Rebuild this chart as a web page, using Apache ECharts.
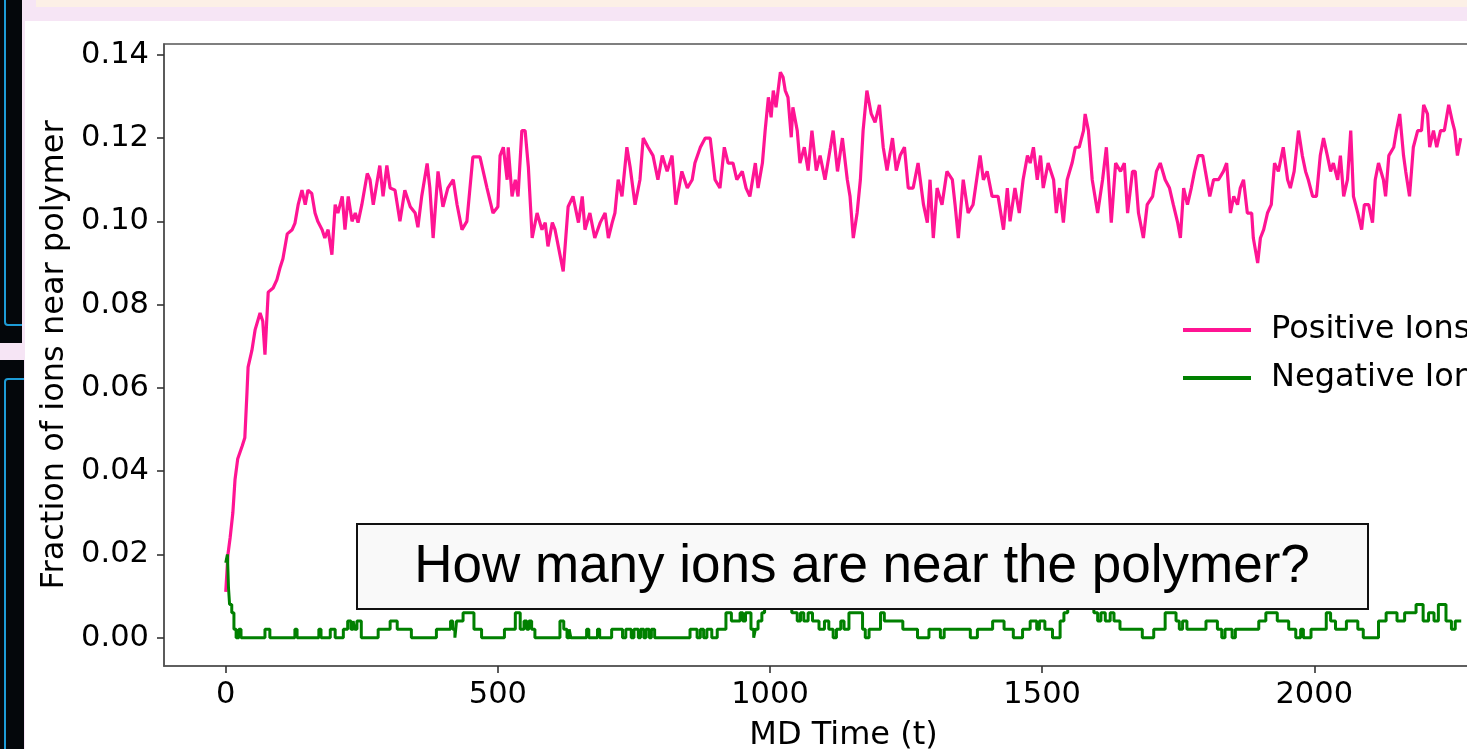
<!DOCTYPE html>
<html><head><meta charset="utf-8">
<script src="https://cdn.jsdelivr.net/npm/echarts@6/dist/echarts.min.js"></script>
<style>
html,body{margin:0;padding:0;width:1467px;height:749px;overflow:hidden;background:#f6e5f5;}
.abs{position:absolute;}
#chart{position:absolute;left:0;top:0;width:1467px;height:749px;}
</style></head><body>
<div class="abs" style="left:36px;top:0;width:1431px;height:7px;background:#fcf0e6"></div>
<div class="abs" style="left:25px;top:21px;width:1442px;height:728px;background:#fff"></div>
<div class="abs" style="left:0;top:0;width:22px;height:343px;background:#04070b;overflow:hidden">
  <div class="abs" style="left:4px;top:-10px;width:40px;height:332px;border:2px solid #1d9bd6;border-radius:4px"></div>
</div>
<div class="abs" style="left:0;top:360px;width:24px;height:389px;background:#04070b;overflow:hidden">
  <div class="abs" style="left:4px;top:18px;width:40px;height:400px;border:2px solid #1d9bd6;border-radius:4px"></div>
</div>
<div id="chart"></div>
<script>
const seriesNames = ['Positive Ions', 'Negative Ions'];
const xTicks = [0, 500, 1000, 1500, 2000];
const yTicks = [0, 0.02, 0.04, 0.06, 0.08, 0.10, 0.12, 0.14];

const positiveIons = [[0,0.011],[4,0.020],[8,0.024],[13,0.030],[17,0.038],[22,0.043],[30,0.046],[35,0.048],[39,0.059],[41,0.065],[48,0.069],[54,0.074],[63,0.078],[68,0.076],[72,0.068],[78,0.083],[87,0.084],[94,0.086],[100,0.089],[105,0.091],[113,0.097],[122,0.098],[127,0.0995],[133,0.104],[140,0.1075],[146,0.104],[151,0.1075],[158,0.1067],[164,0.102],[169,0.100],[177,0.098],[182,0.096],[188,0.098],[195,0.092],[201,0.104],[206,0.102],[214,0.106],[219,0.098],[225,0.106],[232,0.100],[238,0.102],[243,0.0997],[250,0.104],[260,0.1115],[265,0.110],[271,0.104],[283,0.1134],[289,0.106],[296,0.1134],[302,0.108],[311,0.1075],[320,0.100],[329,0.1075],[339,0.1035],[348,0.102],[353,0.0986],[360,0.106],[370,0.1139],[375,0.108],[381,0.096],[390,0.112],[399,0.1035],[408,0.108],[418,0.110],[425,0.104],[434,0.098],[443,0.100],[454,0.1155],[467,0.1155],[480,0.108],[491,0.102],[500,0.1035],[504,0.1158],[510,0.1178],[517,0.110],[519,0.1178],[526,0.106],[532,0.110],[537,0.106],[544,0.1218],[550,0.1218],[556,0.113],[563,0.096],[572,0.102],[581,0.098],[587,0.0997],[592,0.094],[600,0.0997],[605,0.098],[614,0.092],[620,0.088],[629,0.1035],[638,0.106],[648,0.0997],[655,0.106],[660,0.098],[669,0.102],[678,0.096],[688,0.0997],[697,0.102],[703,0.096],[710,0.0997],[715,0.102],[721,0.110],[728,0.106],[737,0.1178],[743,0.113],[752,0.104],[761,0.110],[767,0.120],[776,0.1178],[785,0.1158],[794,0.110],[802,0.1158],[811,0.112],[820,0.1158],[827,0.104],[838,0.112],[848,0.108],[857,0.110],[862,0.114],[872,0.1178],[881,0.120],[890,0.120],[899,0.110],[908,0.108],[916,0.1178],[923,0.114],[932,0.114],[939,0.110],[949,0.112],[956,0.108],[963,0.106],[973,0.114],[978,0.108],[986,0.114],[991,0.1218],[997,0.1298],[1002,0.125],[1006,0.1314],[1011,0.1274],[1019,0.1358],[1024,0.1346],[1028,0.1314],[1033,0.1298],[1039,0.1202],[1042,0.1274],[1050,0.1218],[1055,0.114],[1063,0.1178],[1070,0.1122],[1077,0.1218],[1085,0.1122],[1092,0.1158],[1101,0.110],[1111,0.1178],[1116,0.1218],[1124,0.112],[1133,0.120],[1142,0.110],[1147,0.106],[1153,0.096],[1160,0.102],[1166,0.110],[1171,0.1218],[1178,0.1314],[1186,0.1258],[1193,0.1238],[1201,0.128],[1208,0.1178],[1215,0.1122],[1225,0.120],[1232,0.1122],[1239,0.1158],[1247,0.1178],[1254,0.108],[1263,0.108],[1272,0.114],[1282,0.104],[1289,0.0997],[1294,0.110],[1300,0.096],[1307,0.108],[1316,0.104],[1325,0.112],[1335,0.110],[1340,0.104],[1346,0.096],[1355,0.110],[1364,0.102],[1373,0.104],[1386,0.1158],[1392,0.110],[1399,0.112],[1408,0.106],[1419,0.106],[1429,0.098],[1436,0.108],[1441,0.100],[1450,0.108],[1458,0.102],[1465,0.110],[1473,0.1158],[1478,0.114],[1484,0.1178],[1491,0.110],[1497,0.1158],[1502,0.108],[1511,0.114],[1521,0.110],[1526,0.102],[1532,0.108],[1539,0.0997],[1546,0.110],[1555,0.114],[1561,0.1178],[1568,0.1178],[1576,0.1218],[1579,0.1258],[1585,0.1218],[1592,0.110],[1602,0.102],[1611,0.110],[1618,0.1178],[1622,0.110],[1627,0.0997],[1635,0.114],[1644,0.112],[1651,0.114],[1657,0.102],[1666,0.112],[1671,0.112],[1677,0.102],[1686,0.096],[1693,0.104],[1703,0.106],[1710,0.112],[1717,0.114],[1726,0.110],[1734,0.108],[1741,0.104],[1749,0.0997],[1754,0.096],[1760,0.108],[1767,0.104],[1774,0.108],[1780,0.112],[1787,0.1158],[1795,0.1158],[1800,0.112],[1808,0.106],[1815,0.110],[1824,0.110],[1833,0.112],[1839,0.114],[1846,0.102],[1852,0.106],[1859,0.104],[1864,0.108],[1870,0.110],[1877,0.102],[1885,0.102],[1888,0.096],[1896,0.090],[1901,0.096],[1907,0.098],[1914,0.102],[1921,0.104],[1927,0.114],[1934,0.112],[1943,0.1178],[1951,0.110],[1956,0.108],[1963,0.112],[1971,0.1218],[1978,0.1158],[1984,0.112],[1989,0.110],[1997,0.106],[2004,0.106],[2011,0.1158],[2017,0.120],[2024,0.1158],[2030,0.112],[2035,0.114],[2043,0.110],[2048,0.1158],[2054,0.106],[2061,0.110],[2067,0.1218],[2072,0.106],[2080,0.102],[2087,0.098],[2092,0.104],[2100,0.104],[2107,0.0997],[2112,0.110],[2118,0.114],[2127,0.110],[2131,0.106],[2137,0.1158],[2146,0.1178],[2151,0.1218],[2157,0.1258],[2164,0.1158],[2168,0.112],[2175,0.106],[2182,0.1178],[2190,0.1218],[2197,0.1218],[2201,0.128],[2208,0.1258],[2212,0.1178],[2219,0.1218],[2225,0.1178],[2232,0.1218],[2239,0.1218],[2247,0.128],[2254,0.1238],[2258,0.1218],[2263,0.1158],[2269,0.120]];

const negativeIons = [[0,0.018],[3,0.020],[5,0.012],[7,0.008],[11,0.006],[15,0.002],[19,0],[24,0.002],[28,0],[72,0.002],[81,0],[127,0.002],[131,0],[171,0.002],[175,0],[192,0.002],[201,0],[216,0.002],[224,0.004],[230,0.002],[234,0.004],[237,0.002],[241,0.004],[249,0],[280,0.002],[302,0.004],[315,0.002],[341,0],[387,0.002],[413,0.004],[417,0.002],[421,0],[424,0.004],[436,0.006],[456,0.002],[470,0],[512,0.002],[532,0.006],[541,0.002],[548,0.004],[553,0.002],[557,0.004],[562,0.002],[568,0],[614,0.004],[621,0.002],[627,0],[631,0.002],[634,0],[663,0.002],[667,0],[683,0.002],[687,0],[709,0.002],[729,0],[735,0.002],[745,0],[750,0.002],[758,0],[762,0.002],[768,0],[772,0.002],[778,0],[782,0.002],[788,0],[853,0.002],[866,0],[872,0.002],[878,0],[884,0.002],[893,0],[903,0.002],[919,0.006],[929,0.004],[945,0.006],[950,0.004],[955,0.006],[965,0.002],[970,0],[973,0.002],[978,0.004],[985,0.006],[990,0.008],[1040,0.006],[1050,0.004],[1056,0.006],[1062,0.004],[1070,0.006],[1078,0.004],[1090,0.002],[1100,0.004],[1108,0.002],[1116,0],[1122,0.002],[1130,0.004],[1136,0.002],[1145,0.006],[1170,0.002],[1175,0],[1182,0.002],[1203,0.006],[1210,0.004],[1244,0.002],[1271,0],[1292,0.002],[1313,0],[1320,0.002],[1368,0],[1381,0.002],[1409,0.004],[1430,0.002],[1447,0],[1464,0.002],[1478,0.004],[1490,0.002],[1495,0.004],[1505,0.002],[1519,0],[1533,0.004],[1540,0.006],[1547,0.008],[1595,0.006],[1602,0.004],[1608,0.006],[1616,0.004],[1625,0.006],[1632,0.004],[1643,0.002],[1684,0],[1705,0.002],[1726,0.006],[1746,0.004],[1752,0.002],[1758,0.004],[1766,0.002],[1801,0.004],[1822,0.002],[1830,0],[1836,0.002],[1849,0],[1855,0.002],[1898,0.004],[1911,0.006],[1932,0.004],[1953,0.002],[1966,0],[1975,0.002],[1980,0],[1994,0.002],[2022,0.006],[2030,0.004],[2039,0.002],[2059,0.004],[2080,0.002],[2090,0],[2118,0.004],[2132,0.006],[2152,0.004],[2166,0.006],[2187,0.008],[2200,0.004],[2210,0.006],[2220,0.004],[2228,0.008],[2242,0.004],[2252,0.002],[2259,0.004],[2270,0.004]];

const FONT = '"DejaVu Sans", sans-serif';
const chart = echarts.init(document.getElementById('chart'), null, {renderer: 'canvas'});
chart.setOption({
  animation: false,
  backgroundColor: 'transparent',
  grid: {left: 164, top: 44, width: 1359, height: 622, show: true, borderColor: '#555', borderWidth: 1.6, containLabel: false, outerBoundsMode: 'none'},
  legend: {
    orient: 'vertical', left: 1178, top: 309, itemWidth: 68, itemHeight: 4, itemGap: 16, icon: 'rect',
    textStyle: {fontSize: 32, fontFamily: FONT, color: '#000', padding: [0, 0, 0, 15], lineHeight: 32},
    data: seriesNames
  },
  xAxis: {
    type: 'value', min: -113.5, max: 2383.5,
    name: 'MD Time (t)', nameLocation: 'middle', nameGap: 54,
    nameTextStyle: {fontSize: 32, fontFamily: FONT, color: '#000'},
    axisLine: {show: true, onZero: false, lineStyle: {color: '#555', width: 1.6}},
    axisTick: {show: true, length: 7, customValues: xTicks, lineStyle: {color: '#333', width: 1.6}},
    axisLabel: {customValues: xTicks, fontSize: 30.5, fontFamily: FONT, color: '#000', margin: 14,
      formatter: v => String(v)},
    splitLine: {show: false}
  },
  yAxis: {
    type: 'value', min: -0.0068, max: 0.1426,
    name: 'Fraction of ions near polymer', nameLocation: 'middle', nameGap: 90, nameRotate: 90,
    nameTextStyle: {fontSize: 32, fontFamily: FONT, color: '#000'},
    axisLine: {show: true, onZero: false, lineStyle: {color: '#555', width: 1.6}},
    axisTick: {show: true, length: 7, customValues: yTicks, lineStyle: {color: '#333', width: 1.6}},
    axisLabel: {customValues: yTicks, fontSize: 30.5, fontFamily: FONT, color: '#000', margin: 15,
      formatter: v => v.toFixed(2)},
    splitLine: {show: false}
  },
  series: [
    {name: seriesNames[0], type: 'line', data: positiveIons, showSymbol: false, symbol: 'none',
     color: '#ff1493', lineStyle: {color: '#ff1493', width: 3.2}, clip: true, z: 2},
    {name: seriesNames[1], type: 'line', data: negativeIons, step: 'end', showSymbol: false, symbol: 'none',
     color: '#008000', lineStyle: {color: '#008000', width: 3}, clip: true, z: 3}
  ],
  graphic: [
    {type: 'rect', z: 100, shape: {x: 357, y: 524, width: 1011, height: 85},
     style: {fill: '#f9f9f9', stroke: '#111', lineWidth: 2}},
    {type: 'text', z: 101, x: 862, y: 567,
     style: {text: 'How many ions are near the polymer?', font: '53px "Liberation Sans", Arial, sans-serif',
       fill: '#000', align: 'center', verticalAlign: 'middle'}}
  ]
});
</script>
</body></html>
